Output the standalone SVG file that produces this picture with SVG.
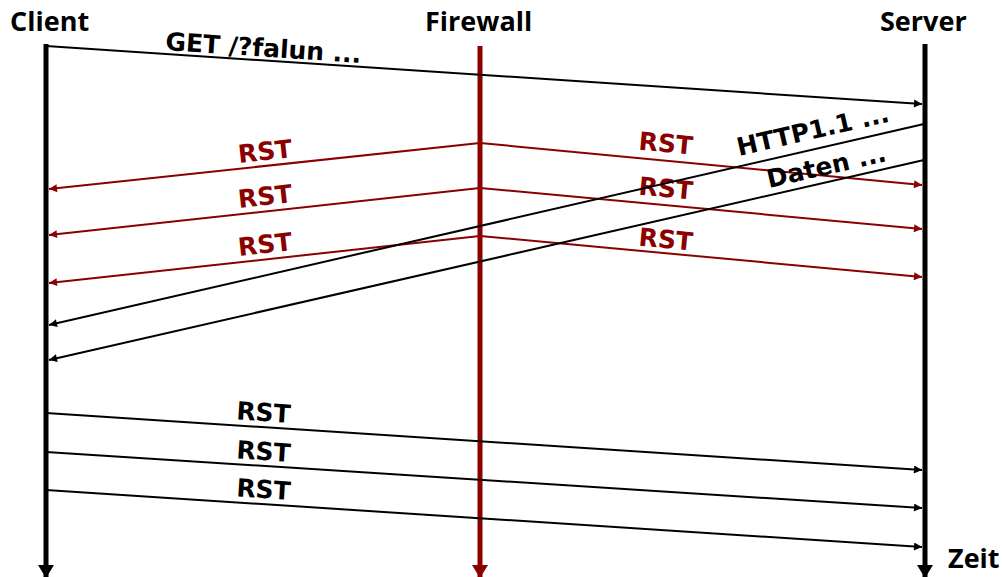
<svg xmlns="http://www.w3.org/2000/svg" width="1002" height="577" viewBox="0 0 1002 577">
  <style>
    .head { font-family: "Open Sans", "DejaVu Sans", sans-serif; font-weight: bold; font-size: 27px; fill: #000; }
    .msg { font-family: "DejaVu Sans", Verdana, sans-serif; font-weight: bold; font-size: 25px; }
    .blk { fill: #000; }
    .red { fill: #8b0000; }
    .life { stroke-width: 5; fill: none; }
    .m { stroke-width: 2; fill: none; }
  </style>
  <defs>
    <marker id="ahBlack" viewBox="0 0 10 10" refX="10" refY="5" markerWidth="10" markerHeight="8" markerUnits="userSpaceOnUse" orient="auto">
      <path d="M0,0 L10,5 L0,10 Z" fill="#000"/>
    </marker>
    <marker id="ahRed" viewBox="0 0 10 10" refX="10" refY="5" markerWidth="10" markerHeight="8" markerUnits="userSpaceOnUse" orient="auto">
      <path d="M0,0 L10,5 L0,10 Z" fill="#8b0000"/>
    </marker>
    <marker id="lifeBlack" viewBox="0 0 10 10" refX="10" refY="5" markerWidth="13" markerHeight="16" markerUnits="userSpaceOnUse" orient="auto" preserveAspectRatio="none">
      <path d="M0,0 L10,5 L0,10 Z" fill="#000"/>
    </marker>
    <marker id="lifeRed" viewBox="0 0 10 10" refX="10" refY="5" markerWidth="13" markerHeight="16" markerUnits="userSpaceOnUse" orient="auto" preserveAspectRatio="none">
      <path d="M0,0 L10,5 L0,10 Z" fill="#8b0000"/>
    </marker>
  </defs>

  <g id="client">
    <text class="head" x="10" y="31">Client</text>
    <line class="life" x1="46" y1="44" x2="46" y2="578" stroke="#000" marker-end="url(#lifeBlack)"/>
  </g>

  <g id="firewall">
    <text class="head" x="425" y="31">Firewall</text>
    <line class="life" x1="480" y1="46" x2="480" y2="578" stroke="#8b0000" marker-end="url(#lifeRed)"/>
  </g>

  <g id="server">
    <text class="head" x="880" y="31">Server</text>
    <line class="life" x1="925" y1="44" x2="925" y2="578" stroke="#000" marker-end="url(#lifeBlack)"/>
    <text class="head" x="948" y="568">Zeit</text>
  </g>

  <g id="connectors">
    <!-- request -->
    <line class="m" x1="46" y1="46" x2="922" y2="104" stroke="#000" marker-end="url(#ahBlack)"/>
    <text class="msg blk" transform="translate(165,50) rotate(3.8)">GET /?falun ...</text>

    <!-- forged resets from the firewall, towards the client -->
    <line class="m" x1="480" y1="143" x2="49" y2="189" stroke="#8b0000" marker-end="url(#ahRed)"/>
    <line class="m" x1="480" y1="188" x2="49" y2="235" stroke="#8b0000" marker-end="url(#ahRed)"/>
    <line class="m" x1="480" y1="236" x2="49" y2="283" stroke="#8b0000" marker-end="url(#ahRed)"/>
    <text class="msg red" text-anchor="middle" transform="translate(266,160) rotate(-6.2)">RST</text>
    <text class="msg red" text-anchor="middle" transform="translate(266,205) rotate(-6.2)">RST</text>
    <text class="msg red" text-anchor="middle" transform="translate(266,253) rotate(-6.2)">RST</text>

    <!-- forged resets from the firewall, towards the server -->
    <line class="m" x1="480" y1="143" x2="922" y2="185" stroke="#8b0000" marker-end="url(#ahRed)"/>
    <line class="m" x1="480" y1="188" x2="922" y2="229" stroke="#8b0000" marker-end="url(#ahRed)"/>
    <line class="m" x1="480" y1="236" x2="922" y2="277" stroke="#8b0000" marker-end="url(#ahRed)"/>
    <text class="msg red" text-anchor="middle" transform="translate(665,152) rotate(5.4)">RST</text>
    <text class="msg red" text-anchor="middle" transform="translate(665,197) rotate(5.4)">RST</text>
    <text class="msg red" text-anchor="middle" transform="translate(665,248) rotate(5.4)">RST</text>

    <!-- server replies -->
    <line class="m" x1="924" y1="124" x2="49" y2="325" stroke="#000" marker-end="url(#ahBlack)"/>
    <line class="m" x1="924" y1="160" x2="49" y2="360" stroke="#000" marker-end="url(#ahBlack)"/>
    <text class="msg blk" transform="translate(739,156) rotate(-12.9)">HTTP1.1 ...</text>
    <text class="msg blk" transform="translate(769,188) rotate(-12.9)">Daten ...</text>

    <!-- client resets -->
    <line class="m" x1="46" y1="413" x2="922" y2="470" stroke="#000" marker-end="url(#ahBlack)"/>
    <line class="m" x1="46" y1="452" x2="922" y2="508" stroke="#000" marker-end="url(#ahBlack)"/>
    <line class="m" x1="46" y1="490" x2="922" y2="547" stroke="#000" marker-end="url(#ahBlack)"/>
    <text class="msg blk" text-anchor="middle" transform="translate(263,421) rotate(3.7)">RST</text>
    <text class="msg blk" text-anchor="middle" transform="translate(263,460) rotate(3.7)">RST</text>
    <text class="msg blk" text-anchor="middle" transform="translate(263,498) rotate(3.7)">RST</text>
  </g>
</svg>
